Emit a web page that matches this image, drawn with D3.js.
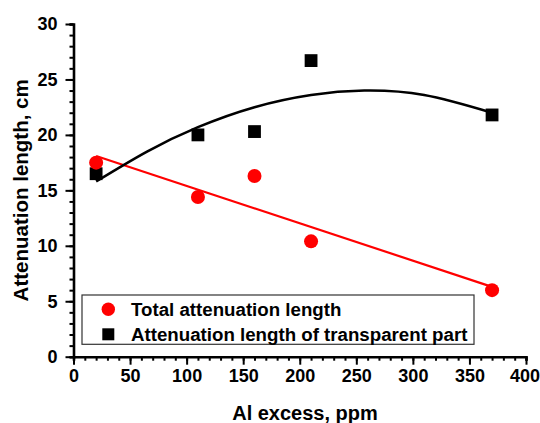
<!DOCTYPE html>
<html><head><meta charset="utf-8">
<script src="https://cdn.jsdelivr.net/npm/d3@7"></script>
<style>body{margin:0;background:#fff}svg{display:block}text{font-family:"Liberation Sans",Arial,sans-serif;font-weight:bold}</style>
</head><body><svg id="c" width="540" height="423"></svg>
<script>
const alExcess = [20, 110, 160, 210, 370];
const totalAtt = [17.5, 14.4, 16.3, 10.4, 6.0];
const transpAtt = [16.5, 20.0, 20.3, 26.7, 21.8];
const linFitX = [20, 370];
const linFitY = [18.1, 6.3];
const curveFitX = [20, 65, 110, 160, 210, 257, 310, 370];
const curveFitY = [15.8, 18.5, 20.7, 22.5, 23.6, 24.0, 23.6, 22.0];
const xTicks = [0, 50, 100, 150, 200, 250, 300, 350, 400];
const yTicks = [0, 5, 10, 15, 20, 25, 30];
const legendLabels = ["Total attenuation length", "Attenuation length of transparent part"];

const svg = d3.select("#c");
const x = d3.scaleLinear().domain([0, 400]).range([73.5, 526]);
const y = d3.scaleLinear().domain([0, 30]).range([356.7, 24]);

const FONT = "Liberation Sans, Arial, sans-serif";
// minor ticks
const xAx = svg.append("g").attr("transform", `translate(0,${y(0)})`)
  .call(d3.axisBottom(x).tickValues(d3.range(0, 401, 10)).tickSize(4).tickFormat(""));
const xMaj = svg.append("g").attr("transform", `translate(0,${y(0)})`)
  .call(d3.axisBottom(x).tickValues(xTicks).tickSize(8).tickPadding(5).tickFormat(d3.format("d")));
const yAx = svg.append("g").attr("transform", `translate(${x(0)},0)`)
  .call(d3.axisLeft(y).tickValues(d3.range(0, 31, 1)).tickSize(4).tickFormat(""));
const yMaj = svg.append("g").attr("transform", `translate(${x(0)},0)`)
  .call(d3.axisLeft(y).tickValues(yTicks).tickSize(8).tickPadding(8).tickFormat(d3.format("d")));
[xAx, xMaj, yAx, yMaj].forEach(g => {
  g.select(".domain").attr("stroke-width", 2.6).attr("stroke", "#000");
  g.selectAll(".tick line").attr("stroke-width", 2).attr("stroke", "#000");
  g.selectAll("text").attr("font-size", 18).attr("fill", "#000")
    .attr("font-family", FONT).attr("font-weight", "bold");
});
xMaj.selectAll(".domain").remove(); yMaj.selectAll(".domain").remove();
xMaj.selectAll(".tick text").filter(d => d === 400).attr("text-anchor", "end").attr("x", 540 - x(400) - 0.5);

// fits
svg.append("path").datum(linFitX.map((v, i) => [v, linFitY[i]]))
  .attr("d", d3.line().x(d => x(d[0])).y(d => y(d[1])))
  .attr("fill", "none").attr("stroke", "#ff0000").attr("stroke-width", 2.2);
svg.append("path").datum(curveFitX.map((v, i) => [v, curveFitY[i]]))
  .attr("d", d3.line().x(d => x(d[0])).y(d => y(d[1])).curve(d3.curveNatural))
  .attr("fill", "none").attr("stroke", "#000").attr("stroke-width", 2.6);

// markers
svg.selectAll(".sq").data(alExcess).join("rect")
  .attr("x", d => x(d) - 6.4).attr("y", (d, i) => y(transpAtt[i]) - 6.4)
  .attr("width", 12.8).attr("height", 12.8).attr("fill", "#000");
svg.selectAll(".ci").data(alExcess).join("circle")
  .attr("cx", d => x(d)).attr("cy", (d, i) => y(totalAtt[i])).attr("r", 7).attr("fill", "#ff0000");

// legend
const lg = svg.append("g");
lg.append("rect").attr("x", 82).attr("y", 295).attr("width", 392).attr("height", 49.3)
  .attr("fill", "#fff").attr("stroke", "#333").attr("stroke-width", 1.2);
lg.append("circle").attr("cx", 108.3).attr("cy", 309.3).attr("r", 6.7).attr("fill", "#ff0000");
lg.append("rect").attr("x", 102.3).attr("y", 328.3).attr("width", 12).attr("height", 12).attr("fill", "#000");
legendLabels.forEach((t, i) => {
  lg.append("text").attr("x", 131).attr("y", 309.3 + i * 25).attr("dy", "0.36em")
    .attr("font-size", 18.7).text(t);
});

// axis titles
svg.append("text").attr("x", 305).attr("y", 420).attr("text-anchor", "middle").attr("font-size", 20).text("Al excess, ppm");
svg.append("text").attr("transform", `translate(28,${y(15)}) rotate(-90)`).attr("text-anchor", "middle").attr("font-size", 20.5).text("Attenuation length, cm");
</script></body></html>
